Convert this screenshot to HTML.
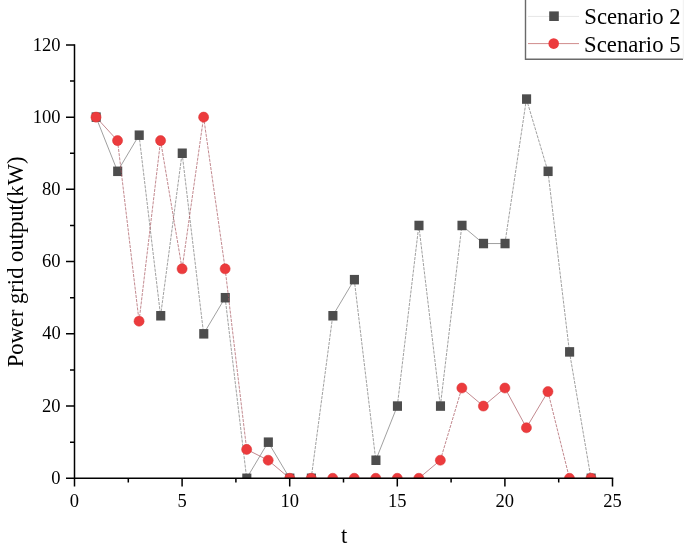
<!DOCTYPE html><html><head><meta charset="utf-8"><style>html,body{margin:0;padding:0;background:#fff;width:685px;height:547px;overflow:hidden}svg{display:block}text{font-family:"Liberation Serif",serif;fill:#000}</style></head><body>
<svg width="685" height="547" viewBox="0 0 685 547">
<defs><clipPath id="c"><rect x="74.5" y="0" width="538.0" height="478.3"/></clipPath></defs>
<g clip-path="url(#c)">
<path d="M96.02,117.13L117.54,171.31M117.54,171.31L139.06,135.19M203.62,333.83L225.14,297.72M246.66,478.30L268.18,442.18M268.18,442.18L289.70,478.30M289.70,478.30L311.22,478.30M332.74,315.77L354.26,279.66M375.78,460.24L397.30,406.07M461.86,225.48L483.38,243.54M483.38,243.54L504.90,243.54" fill="none" stroke="#777" stroke-width="0.7"/><path d="M139.06,135.19L160.58,315.77M160.58,315.77L182.10,153.25M182.10,153.25L203.62,333.83M225.14,297.72L246.66,478.30M311.22,478.30L332.74,315.77M354.26,279.66L375.78,460.24M397.30,406.07L418.82,225.48M418.82,225.48L440.34,406.07M440.34,406.07L461.86,225.48M504.90,243.54L526.42,99.07M526.42,99.07L547.94,171.31M547.94,171.31L569.46,351.89M569.46,351.89L590.98,478.30" fill="none" stroke="#777" stroke-width="0.7" stroke-dasharray="3.1 1.1"/>
<rect x="91.62" y="112.38" width="9.1" height="9.5" fill="#4d4d4d"/>
<rect x="113.14" y="166.56" width="9.1" height="9.5" fill="#4d4d4d"/>
<rect x="134.66" y="130.44" width="9.1" height="9.5" fill="#4d4d4d"/>
<rect x="156.18" y="311.02" width="9.1" height="9.5" fill="#4d4d4d"/>
<rect x="177.70" y="148.50" width="9.1" height="9.5" fill="#4d4d4d"/>
<rect x="199.22" y="329.08" width="9.1" height="9.5" fill="#4d4d4d"/>
<rect x="220.74" y="292.97" width="9.1" height="9.5" fill="#4d4d4d"/>
<rect x="242.26" y="473.55" width="9.1" height="9.5" fill="#4d4d4d"/>
<rect x="263.78" y="437.43" width="9.1" height="9.5" fill="#4d4d4d"/>
<rect x="285.30" y="473.55" width="9.1" height="9.5" fill="#4d4d4d"/>
<rect x="306.82" y="473.55" width="9.1" height="9.5" fill="#4d4d4d"/>
<rect x="328.34" y="311.02" width="9.1" height="9.5" fill="#4d4d4d"/>
<rect x="349.86" y="274.91" width="9.1" height="9.5" fill="#4d4d4d"/>
<rect x="371.38" y="455.49" width="9.1" height="9.5" fill="#4d4d4d"/>
<rect x="392.90" y="401.32" width="9.1" height="9.5" fill="#4d4d4d"/>
<rect x="414.42" y="220.73" width="9.1" height="9.5" fill="#4d4d4d"/>
<rect x="435.94" y="401.32" width="9.1" height="9.5" fill="#4d4d4d"/>
<rect x="457.46" y="220.73" width="9.1" height="9.5" fill="#4d4d4d"/>
<rect x="478.98" y="238.79" width="9.1" height="9.5" fill="#4d4d4d"/>
<rect x="500.50" y="238.79" width="9.1" height="9.5" fill="#4d4d4d"/>
<rect x="522.02" y="94.32" width="9.1" height="9.5" fill="#4d4d4d"/>
<rect x="543.54" y="166.56" width="9.1" height="9.5" fill="#4d4d4d"/>
<rect x="565.06" y="347.14" width="9.1" height="9.5" fill="#4d4d4d"/>
<rect x="586.58" y="473.55" width="9.1" height="9.5" fill="#4d4d4d"/>
<path d="M96.02,117.13L117.54,140.61M246.66,449.41L268.18,460.24M268.18,460.24L289.70,478.30M289.70,478.30L311.22,478.30M311.22,478.30L332.74,478.30M332.74,478.30L354.26,478.30M354.26,478.30L375.78,478.30M375.78,478.30L397.30,478.30M397.30,478.30L418.82,478.30M418.82,478.30L440.34,460.24M461.86,388.01L483.38,406.07M483.38,406.07L504.90,388.01M504.90,388.01L526.42,427.74M526.42,427.74L547.94,391.62M569.46,478.30L590.98,478.30" fill="none" stroke="#a8565f" stroke-width="0.7"/><path d="M117.54,140.61L139.06,321.19M139.06,321.19L160.58,140.61M160.58,140.61L182.10,268.82M182.10,268.82L203.62,117.13M203.62,117.13L225.14,268.82M225.14,268.82L246.66,449.41M440.34,460.24L461.86,388.01M547.94,391.62L569.46,478.30" fill="none" stroke="#a8565f" stroke-width="0.7" stroke-dasharray="3.1 1.1"/>
<circle cx="96.02" cy="117.13" r="5.05" fill="#ec3b3d" stroke="#d83434" stroke-width="0.5"/>
<circle cx="117.54" cy="140.61" r="5.05" fill="#ec3b3d" stroke="#d83434" stroke-width="0.5"/>
<circle cx="139.06" cy="321.19" r="5.05" fill="#ec3b3d" stroke="#d83434" stroke-width="0.5"/>
<circle cx="160.58" cy="140.61" r="5.05" fill="#ec3b3d" stroke="#d83434" stroke-width="0.5"/>
<circle cx="182.10" cy="268.82" r="5.05" fill="#ec3b3d" stroke="#d83434" stroke-width="0.5"/>
<circle cx="203.62" cy="117.13" r="5.05" fill="#ec3b3d" stroke="#d83434" stroke-width="0.5"/>
<circle cx="225.14" cy="268.82" r="5.05" fill="#ec3b3d" stroke="#d83434" stroke-width="0.5"/>
<circle cx="246.66" cy="449.41" r="5.05" fill="#ec3b3d" stroke="#d83434" stroke-width="0.5"/>
<circle cx="268.18" cy="460.24" r="5.05" fill="#ec3b3d" stroke="#d83434" stroke-width="0.5"/>
<circle cx="289.70" cy="478.30" r="5.05" fill="#ec3b3d" stroke="#d83434" stroke-width="0.5"/>
<circle cx="311.22" cy="478.30" r="5.05" fill="#ec3b3d" stroke="#d83434" stroke-width="0.5"/>
<circle cx="332.74" cy="478.30" r="5.05" fill="#ec3b3d" stroke="#d83434" stroke-width="0.5"/>
<circle cx="354.26" cy="478.30" r="5.05" fill="#ec3b3d" stroke="#d83434" stroke-width="0.5"/>
<circle cx="375.78" cy="478.30" r="5.05" fill="#ec3b3d" stroke="#d83434" stroke-width="0.5"/>
<circle cx="397.30" cy="478.30" r="5.05" fill="#ec3b3d" stroke="#d83434" stroke-width="0.5"/>
<circle cx="418.82" cy="478.30" r="5.05" fill="#ec3b3d" stroke="#d83434" stroke-width="0.5"/>
<circle cx="440.34" cy="460.24" r="5.05" fill="#ec3b3d" stroke="#d83434" stroke-width="0.5"/>
<circle cx="461.86" cy="388.01" r="5.05" fill="#ec3b3d" stroke="#d83434" stroke-width="0.5"/>
<circle cx="483.38" cy="406.07" r="5.05" fill="#ec3b3d" stroke="#d83434" stroke-width="0.5"/>
<circle cx="504.90" cy="388.01" r="5.05" fill="#ec3b3d" stroke="#d83434" stroke-width="0.5"/>
<circle cx="526.42" cy="427.74" r="5.05" fill="#ec3b3d" stroke="#d83434" stroke-width="0.5"/>
<circle cx="547.94" cy="391.62" r="5.05" fill="#ec3b3d" stroke="#d83434" stroke-width="0.5"/>
<circle cx="569.46" cy="478.30" r="5.05" fill="#ec3b3d" stroke="#d83434" stroke-width="0.5"/>
<circle cx="590.98" cy="478.30" r="5.05" fill="#ec3b3d" stroke="#d83434" stroke-width="0.5"/>
</g>
<g stroke="#000" stroke-width="1.5" fill="none">
<path d="M74.5,44.146000000000015 V478.3 H613.25"/>
<path d="M66.0,478.30H74.5M66.0,406.07H74.5M66.0,333.83H74.5M66.0,261.60H74.5M66.0,189.36H74.5M66.0,117.13H74.5M66.0,44.90H74.5M70.0,442.18H74.5M70.0,369.95H74.5M70.0,297.72H74.5M70.0,225.48H74.5M70.0,153.25H74.5M70.0,81.01H74.5M74.50,478.3V486.6M182.10,478.3V486.6M289.70,478.3V486.6M397.30,478.3V486.6M504.90,478.3V486.6M612.50,478.3V486.6M128.30,478.3V482.6M235.90,478.3V482.6M343.50,478.3V482.6M451.10,478.3V482.6M558.70,478.3V482.6"/>
</g>
<path d="M525.5,-2V59.2H683" stroke="#6a6a6a" stroke-width="1.4" fill="none"/>
<path d="M683.3,-2V59" stroke="#f0f0f0" stroke-width="1" fill="none"/>
<path d="M528,16.4H579" stroke="#e6e6e6" stroke-width="1"/>
<rect x="549.2" y="11.40" width="9.6" height="9.6" fill="#4d4d4d"/>
<path d="M528,43.6H579" stroke="#d08c8c" stroke-width="1"/>
<circle cx="553.7" cy="43.6" r="5.3" fill="#ec3b3d"/>
<g fill="#000" style="will-change:transform">
<text transform="translate(60.56,483.70) scale(0.1)" font-size="185.0" text-anchor="end">0</text>
<text transform="translate(60.47,411.71) scale(0.1)" font-size="185.0" text-anchor="end">20</text>
<text transform="translate(60.66,338.72) scale(0.1)" font-size="185.0" text-anchor="end">40</text>
<text transform="translate(60.58,266.89) scale(0.1)" font-size="185.0" text-anchor="end">60</text>
<text transform="translate(60.55,194.56) scale(0.1)" font-size="185.0" text-anchor="end">80</text>
<text transform="translate(60.41,122.54) scale(0.1)" font-size="185.0" text-anchor="end">100</text>
<text transform="translate(60.47,50.50) scale(0.1)" font-size="185.0" text-anchor="end">120</text>
<text transform="translate(74.44,506.68) scale(0.1)" font-size="185.0" text-anchor="middle">0</text>
<text transform="translate(182.13,506.69) scale(0.1)" font-size="185.0" text-anchor="middle">5</text>
<text transform="translate(289.76,506.74) scale(0.1)" font-size="185.0" text-anchor="middle">10</text>
<text transform="translate(397.15,506.66) scale(0.1)" font-size="185.0" text-anchor="middle">15</text>
<text transform="translate(504.78,506.65) scale(0.1)" font-size="185.0" text-anchor="middle">20</text>
<text transform="translate(612.43,506.65) scale(0.1)" font-size="185.0" text-anchor="middle">25</text>
<text transform="translate(344.10,543.17) scale(0.1)" font-size="226.0" text-anchor="middle">t</text>
<text transform="translate(22.52,261.91) rotate(-90) scale(0.1)" font-size="226.0" text-anchor="middle">Power grid output(kW)</text>
<text transform="translate(584.29,23.58) scale(0.1)" font-size="227.0">Scenario 2</text>
<text transform="translate(584.12,51.72) scale(0.1)" font-size="227.0">Scenario 5</text>
</g>
</svg></body></html>
